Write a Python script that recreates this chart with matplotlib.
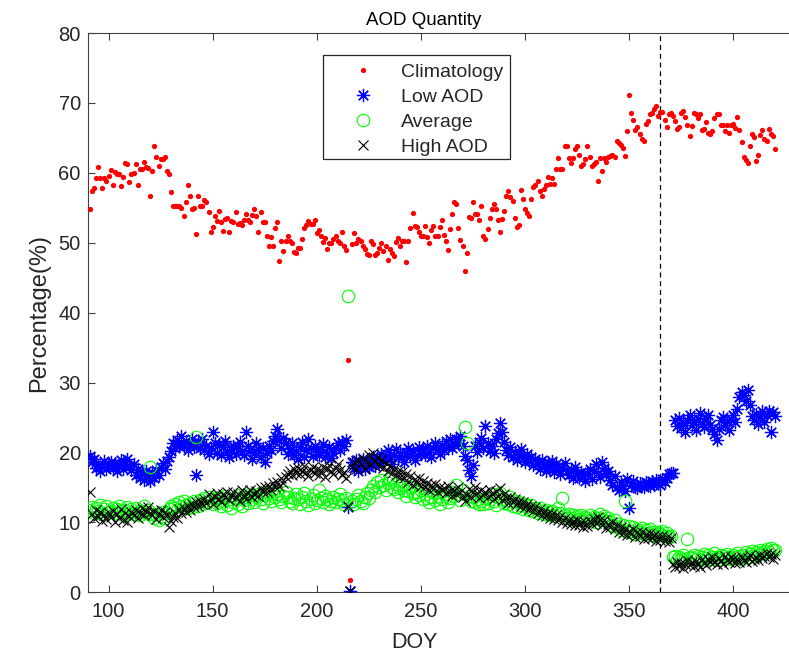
import numpy as np
import matplotlib
matplotlib.use("Agg")
import matplotlib.pyplot as plt
from matplotlib.patches import Rectangle

nan = np.nan

# Day of year (continues past 365 into the following year)
days = list(range(91, 421))

climatology = [
    54.8, 57.4, 57.9, 59.2, 60.8, 59.2, 57.9, 59.2, 58.9, 59.5,   # 91-100
    60.4, 58.2, 60.1, 59.9, 59.8, 58.1, 59.4, 61.4, 61.2, 58.7,   # 101-110
    59.9, 60.0, 61.2, 58.3, 60.6, 60.6, 61.6, 60.8, 60.7, 56.7,   # 111-120
    60.3, 63.9, 62.2, 61.0, 62.0, 62.0, 62.2, 60.3, 59.8, 57.2,   # 121-130
    55.2, 55.2, 55.2, 55.3, 55.0, 53.9, 55.8, 58.3, 56.7, 54.8,   # 131-140
    55.0, 51.2, 56.7, 55.2, 55.2, 56.1, 55.8, 54.4, 51.6, 52.3,   # 141-150
    53.9, 53.1, 54.5, 53.0, 51.7, 53.4, 53.5, 51.6, 53.1, 53.0,   # 151-160
    54.4, 52.7, 52.8, 52.6, 53.3, 54.1, 53.3, 52.9, 54.0, 54.9,   # 161-170
    53.8, 51.5, 54.4, 52.9, 52.9, 50.9, 49.6, 50.8, 49.6, 52.1,   # 171-180
    52.9, 47.4, 50.3, 48.8, 50.3, 51.0, 50.3, 50.0, 48.7, 48.5,   # 181-190
    49.2, 49.2, 50.6, 52.1, 52.5, 53.1, 52.7, 52.7, 53.2, 51.4,   # 191-200
    51.8, 50.9, 50.1, 50.7, 49.1, 50.0, 50.0, 50.6, 50.9, 50.2,   # 201-210
    50.0, 51.6, 49.6, 48.9, 33.2, 1.8, 49.8, 51.4, 50.0, 50.6,    # 211-220
    50.3, 49.5, 49.1, 48.4, 48.3, 50.3, 49.8, 48.2, 48.6, 49.3,   # 221-230
    49.9, 48.8, 49.5, 47.6, 49.1, 48.5, 48.1, 50.1, 50.7, 49.6,   # 231-240
    50.3, 50.3, 47.3, 50.3, 52.1, 54.3, 52.4, 52.2, 51.5, 51.0,   # 241-250
    50.9, 52.4, 50.8, 49.9, 51.8, 52.4, 51.0, 51.0, 52.3, 53.3,   # 251-260
    51.1, 50.3, 49.0, 51.9, 54.1, 55.8, 55.6, 52.1, 50.4, 49.5,   # 261-270
    46.0, 48.6, 53.7, 53.5, 55.8, 54.1, 54.1, 53.3, 55.3, 51.0,   # 271-280
    50.6, 52.0, 53.5, 54.8, 55.5, 54.9, 53.3, 51.6, 53.4, 54.5,   # 281-290
    56.7, 57.4, 56.5, 56.0, 53.6, 52.3, 52.6, 57.5, 56.2, 54.8,   # 291-300
    54.3, 53.9, 56.2, 58.0, 58.2, 58.9, 57.4, 56.7, 57.7, 58.2,   # 301-310
    59.4, 58.4, 59.3, 58.4, 60.5, 62.1, 60.5, 60.5, 63.8, 63.8,   # 311-320
    62.1, 61.4, 62.1, 63.4, 63.8, 62.6, 61.0, 61.2, 62.0, 63.9,   # 321-330
    62.2, 61.0, 61.2, 61.6, 58.9, 62.1, 60.2, 62.1, 61.6, 62.2,   # 331-340
    62.4, 62.5, 62.3, 64.5, 64.3, 64.0, 63.5, 62.4, 66.0, 71.2,   # 341-350
    68.5, 67.5, 66.1, 66.5, 65.5, 64.9, 64.5, 67.0, 67.4, 68.4,   # 351-360
    68.5, 69.1, 69.5, 68.1, 68.7, 68.7, 67.5, 66.5, 68.4, 68.5,   # 361-370
    68.1, 67.4, 66.3, 66.5, 68.5, 68.9, 68.0, 66.8, 65.3, 66.7,   # 371-380
    68.6, 68.4, 67.8, 68.4, 66.1, 66.3, 67.3, 65.7, 65.6, 66.0,   # 381-390
    67.9, 68.4, 68.4, 66.8, 66.8, 66.0, 66.8, 65.7, 66.9, 67.0,   # 391-400
    66.4, 68.0, 66.2, 64.4, 62.2, 61.9, 61.4, 63.9, 65.6, 65.1,   # 401-410
    61.7, 62.6, 65.4, 66.1, 64.9, 64.5, 66.3, 65.5, 65.3, 63.4,   # 411-420
]

low_aod = [
    19.5, 18.6, 19.0, 17.8, 18.2, 17.4, 18.0, 18.8, 17.6, 18.3,
    18.6, 17.8, 18.5, 17.3, 18.2, 18.9, 17.7, 18.4, 19.0, 18.1,
    17.5, 18.3, 16.8, 17.6, 16.4, 17.2, 16.0, 17.4, 16.6, 15.9,
    17.0, 16.3, 17.5, 16.8, 17.9, 18.5, 17.6, 18.8, 19.4, 20.2,
    21.3, 20.6, 21.8, 20.9, 22.4, 21.0, 21.6, 20.4, 21.2, 22.0,
    20.8, 16.8, 21.5, 20.7, 21.9, 20.3, 21.0, 19.8, 20.6, 23.0,
    21.4, 20.0, 21.2, 19.6, 20.8, 21.7, 20.1, 19.3, 20.5, 21.0,
    19.8, 20.9, 21.5, 20.2, 19.6, 22.9, 21.0, 20.4, 19.1, 20.0,
    21.3, 20.5, 19.4, 20.7, 18.7, 19.9, 21.0, 20.3, 21.6, 22.4,
    23.4, 21.8, 20.6, 22.1, 21.3, 19.8, 20.5, 21.4, 19.6, 20.2,
    19.0, 20.8, 21.5, 19.4, 20.3, 21.9, 20.7, 19.5, 21.0, 20.1,
    19.7, 20.5, 21.2, 19.3, 20.0, 20.8, 19.2, 19.9, 20.6, 21.3,
    20.4, 21.5, 20.9, 21.8, 12.2, 0.2, 18.6, 17.8, 18.9, 17.4,
    18.2, 19.0, 17.6, 18.5, 17.9, 18.8, 19.4, 18.1, 19.2, 18.6,
    19.8, 18.9, 19.5, 20.3, 19.1, 18.4, 19.7, 20.5, 19.3, 20.0,
    19.4, 18.7, 19.9, 20.6, 19.5, 20.2, 18.9, 19.6, 20.8, 19.8,
    20.4, 19.7, 21.0, 20.1, 19.4, 20.7, 21.3, 20.5, 19.8, 21.1,
    20.3, 21.6, 20.8, 21.9, 20.6, 21.2, 22.0, 21.4, 22.3, 21.0,
    19.5, 18.9, 17.5, 16.6, 18.2, 20.9, 20.1, 21.5, 22.1, 20.7,
    23.8, 21.3, 20.2, 21.0, 20.0, 22.0, 22.8, 24.2, 22.9, 21.5,
    20.4, 19.6, 20.8, 19.3, 20.1, 18.9, 19.7, 20.5, 19.2, 18.6,
    19.8, 18.8, 19.4, 18.2, 19.0, 18.5, 17.7, 18.9, 18.1, 17.4,
    18.6, 17.9, 18.8, 17.2, 18.3, 17.6, 16.9, 17.8, 18.5, 17.3,
    16.8, 17.5, 16.4, 17.9, 17.0, 16.3, 17.2, 16.6, 15.9, 17.0,
    17.6, 16.2, 17.3, 18.4, 17.1, 16.5, 18.6, 17.8, 16.9, 17.4,
    16.1, 15.4, 16.6, 15.0, 14.7, 15.8, 15.2, 14.5, 16.2, 12.0,
    15.3, 15.9, 15.1, 14.9, 15.7, 15.4, 15.0, 15.8, 15.5, 15.2,
    15.9, 15.3, 16.0, 15.6, 15.4, 16.2, 15.8, 16.4, 16.9, 17.1,
    17.0, 24.6, 23.8, 24.9, 23.5, 24.2, 23.0, 24.7, 25.3, 23.9,
    24.4, 23.2, 24.8, 25.6, 24.1, 23.6, 24.9, 25.4, 24.0, 23.3,
    22.6, 21.8, 23.4, 24.7, 25.1, 23.9, 24.5, 23.2, 24.8, 25.4,
    24.3, 26.2, 27.9, 28.6, 28.2, 27.4, 28.9, 26.8, 25.2, 24.6,
    25.5, 24.1, 25.0, 25.9, 24.4, 25.3, 26.0, 23.0, 25.8, 25.2,
]

average = [
    11.8, 12.2, 11.4, 12.0, 11.6, 12.5, 11.2, 11.9, 12.3, 11.5,
    11.7, 12.1, 11.3, 11.9, 12.4, 11.6, 11.0, 11.8, 12.2, 11.4,
    11.9, 11.2, 12.0, 11.5, 11.1, 11.7, 12.3, 11.4, 11.8, 17.9,
    11.2, 10.6, 11.0, 10.4, 10.9, 11.5, 10.7, 11.3, 11.9, 12.4,
    12.0, 12.6, 11.8, 12.9, 12.3, 13.1, 12.5, 12.0, 12.8, 12.2,
    13.0, 22.2, 12.4, 13.2, 12.7, 13.5, 12.9, 13.7, 13.2, 12.6,
    13.4, 12.8, 13.6, 12.3, 13.1, 13.8, 12.5, 13.3, 12.0, 12.9,
    13.5, 12.7, 13.9, 12.4, 13.2, 13.7, 12.8, 14.0, 13.4, 12.9,
    13.6, 14.1, 13.3, 12.8, 13.9, 14.3, 13.5, 13.0, 14.2, 13.7,
    14.0, 13.4, 12.9, 13.8, 14.4, 13.6, 13.1, 12.8, 13.5, 14.1,
    13.3, 12.7, 13.6, 14.2, 13.0, 12.5, 13.4, 13.9, 12.8, 13.2,
    14.6, 13.5, 12.9, 13.8, 13.3, 12.6, 13.1, 13.7, 12.9, 13.4,
    14.0, 13.2, 12.7, 13.5, 42.4, nan, 13.0, 12.6, 13.3, 13.9,
    13.1, 12.8, 13.6, 14.2, 13.5, 14.6, 15.2, 14.4, 15.8, 15.0,
    16.0, 15.3, 14.7, 15.6, 16.2, 15.1, 14.8, 15.5, 14.3, 14.9,
    15.4, 14.6, 13.8, 14.5, 15.1, 14.2, 13.6, 14.4, 13.9, 14.7,
    13.3, 14.0, 13.5, 12.9, 13.7, 14.3, 13.2, 13.8, 12.7, 13.4,
    14.1, 13.6, 12.9, 13.5, 14.4, 13.8, 15.3, 14.0, 13.2, 14.6,
    23.6, 21.4, 13.8, 13.0, 13.7, 12.9, 13.4, 12.6, 13.1, 12.7,
    13.5, 12.8, 13.3, 14.0, 13.1, 12.5, 13.6, 14.2, 13.3, 12.8,
    13.2, 12.7, 13.6, 12.4, 13.0, 12.2, 12.9, 12.5, 11.9, 12.6,
    12.3, 11.8, 12.5, 11.6, 12.1, 11.4, 12.0, 11.7, 11.2, 11.8,
    11.5, 11.1, 11.7, 10.9, 11.4, 12.0, 11.3, 13.5, 11.0, 10.7,
    11.2, 10.6, 11.0, 10.4, 10.9, 10.5, 11.1, 10.3, 10.8, 10.6,
    11.0, 10.4, 10.8, 10.1, 10.7, 11.2, 10.5, 10.9, 10.2, 10.6,
    10.0, 9.6, 10.3, 9.4, 9.8, 8.9, 9.7, 13.0, 8.6, 9.5,
    8.8, 9.3, 8.4, 9.0, 8.6, 9.2, 8.3, 8.9, 8.5, 9.1,
    8.2, 8.7, 8.0, 8.6, 8.3, 8.8, 8.1, 8.5, 7.9, 8.0,
    5.1, 5.2, 4.6, 5.0, 4.8, 5.3, 4.7, 7.6, 5.1, 4.9,
    5.4, 4.8, 5.2, 4.6, 5.0, 5.5, 4.9, 5.3, 4.7, 5.1,
    5.6, 5.0, 4.8, 5.4, 5.2, 4.9, 5.5, 5.1, 4.7, 5.3,
    5.0, 5.6, 5.2, 4.8, 5.4, 5.7, 5.1, 5.5, 5.9, 5.3,
    5.8, 5.4, 6.0, 5.6, 5.9, 6.2, 5.7, 6.3, 6.1, 6.0,
]

high_aod = [
    14.3, 11.2, 10.6, 11.8, 10.9, 11.5, 10.2, 11.0, 10.5, 11.4,
    10.8, 11.6, 10.1, 11.2, 10.7, 11.9, 10.4, 11.3, 10.0, 10.9,
    11.5, 11.0, 11.8, 10.6, 11.3, 12.0, 11.1, 11.6, 12.2, 11.4,
    11.0, 11.7, 10.5, 11.2, 11.8, 10.8, 11.5, 11.0, 9.3, 10.2,
    10.8, 11.4, 10.6, 11.9, 11.3, 12.1, 11.5, 12.4, 11.8, 12.6,
    12.2, 12.9, 12.4, 13.1, 12.6, 13.4, 12.8, 14.0, 13.3, 12.7,
    13.6, 14.2, 13.4, 12.9, 14.1, 13.7, 14.4, 13.2, 13.8, 14.3,
    13.5, 14.0, 13.1, 14.6, 13.9, 13.3, 14.2, 14.7, 13.6, 14.1,
    14.5, 13.8, 14.9, 14.3, 15.0, 14.4, 15.2, 14.6, 15.6, 15.1,
    15.8, 15.2, 16.3, 15.7, 16.5, 16.9, 17.4, 16.8, 17.6, 17.1,
    17.8, 16.9, 17.4, 18.0, 17.2, 16.6, 17.5, 17.9, 17.0, 17.7,
    16.8, 17.3, 17.9, 16.5, 17.6, 18.2, 17.4, 16.9, 17.8, 18.4,
    17.5, 16.8, 17.2, 16.4, 12.4, 0.2, 17.9, 18.6, 17.6, 18.9,
    18.3, 19.2, 17.8, 18.7, 19.6, 18.4, 19.9, 18.8, 19.3, 18.1,
    18.9, 17.8, 18.5, 17.3, 18.1, 17.0, 17.6, 16.8, 17.4, 16.5,
    17.2, 16.3, 16.9, 15.8, 16.6, 15.4, 16.2, 15.7, 16.4, 15.2,
    15.9, 15.0, 15.6, 14.7, 15.3, 14.8, 15.5, 14.4, 15.1, 14.6,
    14.9, 14.2, 15.2, 14.5, 13.8, 14.7, 14.1, 15.0, 14.3, 13.6,
    13.1, 13.9, 14.8, 13.7, 14.4, 15.1, 14.2, 13.5, 14.6, 13.9,
    14.3, 13.6, 14.7, 14.0, 13.3, 14.5, 13.8, 14.9, 13.2, 14.1,
    13.5, 12.8, 13.7, 12.9, 13.4, 12.6, 13.1, 12.3, 12.9, 12.2,
    12.7, 11.9, 12.4, 11.6, 12.2, 11.4, 11.9, 11.1, 11.7, 10.9,
    11.4, 10.7, 11.2, 10.5, 11.0, 10.3, 10.8, 10.1, 10.6, 9.9,
    10.4, 9.8, 10.2, 9.6, 10.3, 9.7, 10.0, 9.4, 10.1, 9.5,
    10.2, 9.8, 10.5, 9.9, 10.8, 10.3, 9.7, 10.4, 9.2, 9.8,
    9.4, 10.0, 9.1, 9.6, 8.7, 9.3, 8.5, 9.0, 8.2, 8.8,
    8.4, 9.1, 7.9, 8.6, 8.0, 8.7, 7.6, 8.3, 7.8, 8.5,
    7.7, 8.2, 7.4, 8.0, 7.5, 8.1, 7.3, 7.9, 7.2, 7.8,
    4.1, 3.6, 4.4, 3.8, 4.2, 3.5, 4.0, 4.6, 3.9, 4.3,
    3.7, 4.5, 4.0, 3.6, 4.8, 4.2, 3.9, 4.7, 4.3, 5.0,
    4.4, 4.1, 4.9, 4.5, 4.0, 5.2, 4.6, 4.3, 5.0, 4.7,
    4.2, 4.8, 4.4, 5.1, 4.6, 4.3, 4.9, 5.3, 4.5, 4.8,
    5.0, 4.6, 5.4, 4.9, 5.2, 5.6, 5.1, 5.5, 4.8, 5.3,
]

year_end = 365
x_ticks = [100, 150, 200, 250, 300, 350, 400]
y_ticks = [0, 10, 20, 30, 40, 50, 60, 70, 80]

plt.rcParams['font.family'] = ['Liberation Sans', 'DejaVu Sans']
text_color = '#262626'
axis_color = '#404040'

W, H = 789, 658
fig = plt.figure(figsize=(W / 100, H / 100), dpi=100)
# axes run slightly past the right edge of the canvas
ax_rect = [0.1112, 0.0998, 0.8973, 0.850]
ax = fig.add_axes(ax_rect)

asterisk = (8, 2, 0)
ax.plot(days, climatology, linestyle='none', marker='o', markersize=3.8,
        color='#ff0000', markeredgewidth=0, label='Climatology', zorder=3)
ax.plot(days, low_aod, linestyle='none', marker=asterisk, markersize=9.5,
        color='#0000ff', markeredgewidth=0.9, label='Low AOD', zorder=4)
ax.plot(days, average, linestyle='none', marker='o', markersize=9,
        markerfacecolor='none', markeredgecolor='#00ff00', markeredgewidth=0.8,
        label='Average', zorder=5)
ax.plot(days, high_aod, linestyle='none', marker='x', markersize=7.5,
        color='black', markeredgewidth=0.8, label='High AOD', zorder=6)

ax.axvline(year_end, color='black', linestyle=(0, (4, 3)), linewidth=0.9, zorder=2)

ax.set_xlim(90, 430)
ax.set_ylim(0, 80)
ax.set_xticks(x_ticks)
ax.set_yticks(y_ticks)
ax.tick_params(direction='in', length=5, width=0.8, colors=axis_color,
               labelcolor=text_color, labelsize=14.5, top=True, right=True)
ax.tick_params(axis='x', pad=7)
ax.tick_params(axis='y', pad=5)
for sp in ax.spines.values():
    sp.set_color(axis_color)
    sp.set_linewidth(0.8)

ax_left_px = ax_rect[0] * W
ax_top_px = H - (ax_rect[1] + ax_rect[3]) * H
ax_w = ax_rect[2] * W
ax_h = ax_rect[3] * H
ax.set_title('AOD Quantity', fontsize=13.5, color='black', pad=6,
             x=(424 - ax_left_px) / ax_w)
ax.set_xlabel('DOY', fontsize=15.5, color=text_color)
ax.xaxis.set_label_coords((414 - ax_left_px) / ax_w, -0.071)
ax.set_ylabel('Percentage(%)', fontsize=17, color=text_color, labelpad=6)

# legend entries without their own frame; the box is drawn separately
leg = ax.legend(loc='upper left',
                bbox_to_anchor=((332.5 - ax_left_px) / ax_w,
                                1 - (63.5 - ax_top_px) / ax_h),
                borderaxespad=0, numpoints=1, fontsize=14, frameon=False,
                handlelength=3.1, handletextpad=0.4, borderpad=0,
                labelspacing=0.37)
for t in leg.get_texts():
    t.set_color(text_color)

box_l, box_t, box_r, box_b = 323, 55, 510, 159
fig.add_artist(Rectangle((box_l / W, 1 - box_b / H), (box_r - box_l) / W,
                         (box_b - box_t) / H, transform=fig.transFigure,
                         fill=False, edgecolor='#262626', linewidth=0.9))

fig.savefig('out.png', dpi=100)
